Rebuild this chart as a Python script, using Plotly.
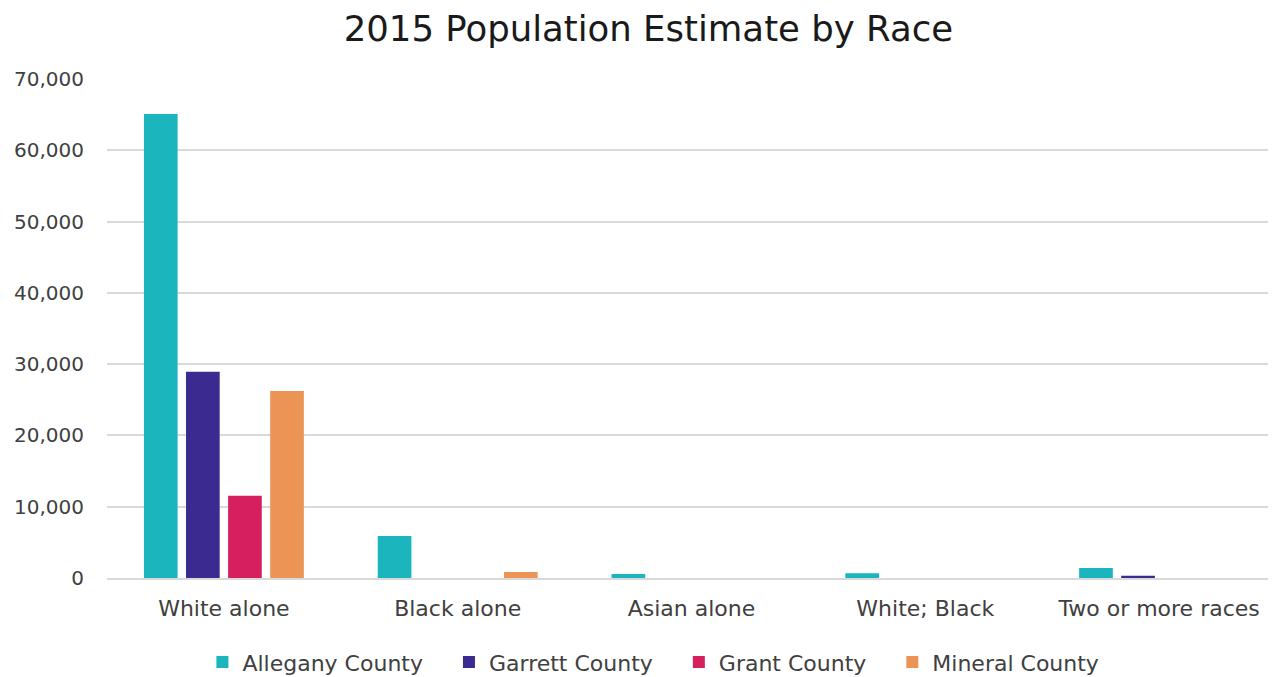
import plotly.graph_objects as go

categories = ["White alone", "Black alone", "Asian alone", "White; Black", "Two or more races"]
allegany = [65100, 5900, 560, 650, 1400]
garrett = [28950, 0, 0, 0, 320]
grant = [11550, 0, 0, 0, 0]
mineral = [26250, 850, 0, 0, 0]

series = [
    ("Allegany County", allegany, "#1ab5bd"),
    ("Garrett County", garrett, "#3b2a8f"),
    ("Grant County", grant, "#d61f5e"),
    ("Mineral County", mineral, "#eb9455"),
]

fig = go.Figure()
for i, (name, vals, col) in enumerate(series):
    pad = "\u00a0\u00a0\u00a0" if i < len(series) - 1 else ""
    fig.add_trace(go.Bar(x=categories, y=vals, name=name + pad, marker_color=col,
                         marker_line_width=0))

font_family = "'DejaVu Sans', sans-serif"
fig.update_layout(
    width=1268, height=669,
    barmode="group", bargap=0.28, bargroupgap=0.2,
    plot_bgcolor="white", paper_bgcolor="white",
    font=dict(family=font_family, color="#404040", size=20),
    title=dict(text="2015 Population Estimate by Race", x=0.505, xanchor="center",
               y=0.97, yanchor="middle", font=dict(size=35.5, color="#1a1a1a")),
    margin=dict(l=99, r=0, t=71, b=99),
    legend=dict(orientation="h", xref="container", x=0.509, xanchor="center",
                yref="container", y=0.022, yanchor="middle",
                font=dict(size=22, color="#404040"), itemwidth=30, tracegroupgap=0),
    yaxis=dict(range=[0, 70000], dtick=10000, tickformat=",", gridcolor="#d9d9d9",
               gridwidth=1.5, zeroline=False, ticks="", ticklabelstandoff=22,
               tickfont=dict(size=20)),
    xaxis=dict(showline=True, linecolor="#d9d9d9", linewidth=1.5, ticks="",
               tickfont=dict(size=22), ticklabelstandoff=10),
)

fig.write_html("out.html")
